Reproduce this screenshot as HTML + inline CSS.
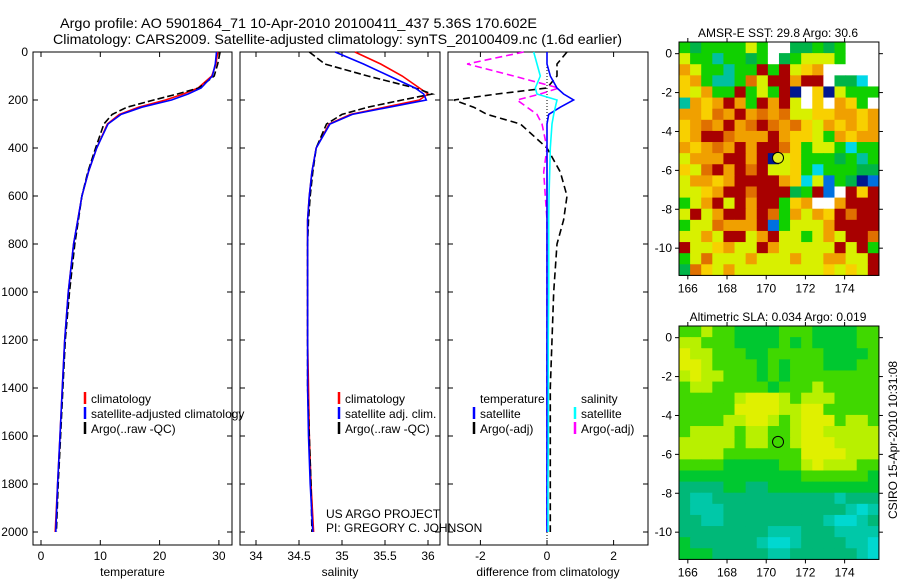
<!DOCTYPE html>
<html><head><meta charset="utf-8"><style>
html,body{margin:0;padding:0;background:#fff;}
svg{display:block;font-family:"Liberation Sans",sans-serif;}
</style></head><body>
<svg id="fig" width="900" height="580" viewBox="0 0 900 580" xmlns="http://www.w3.org/2000/svg">
<text x="60" y="28" font-size="14" textLength="477" lengthAdjust="spacingAndGlyphs">Argo profile: AO 5901864_71 10-Apr-2010 20100411_437 5.36S 170.602E</text>
<text x="53" y="44" font-size="14" textLength="569" lengthAdjust="spacingAndGlyphs">Climatology: CARS2009. Satellite-adjusted climatology: synTS_20100409.nc (1.6d earlier)</text>
<g id="plots"></g>
<text transform="translate(897,440) rotate(-90)" font-size="12" text-anchor="middle">CSIRO 15-Apr-2010 10:31:08</text>
</svg>
<script>
// ---- data ----
const depths = [0,50,100,150,175,200,230,260,300,400,500,600,700,800,1000,1200,1400,1600,1800,2000];
const tempClim = [29.8,29.5,28.8,26.5,24,21,16.5,13.2,11.2,9.4,8,6.9,6.2,5.5,4.6,4,3.6,3.2,2.8,2.4];
const tempSat  = [29.6,29.4,28.9,27,24.8,22,17,13.5,11.3,9.4,8,6.9,6.2,5.5,4.6,4,3.6,3.2,2.8,2.5];
const tempArgo = [30.2,29.8,29.2,26.6,23,19,14.5,12,10.6,9.2,7.9,6.9,6.3,5.7,4.8,4.1,3.7,3.3,2.9,2.6];
const salClim  = [35.15,35.45,35.7,35.9,36.0,35.9,35.5,35.1,34.85,34.7,34.65,34.62,34.6,34.6,34.6,34.6,34.61,34.62,34.64,34.67];
const salSat   = [34.92,35.25,35.55,35.85,35.95,35.98,35.55,35.12,34.86,34.7,34.65,34.62,34.6,34.6,34.6,34.6,34.6,34.61,34.63,34.66];
const salArgo  = [34.62,34.8,35.3,35.85,36.05,35.7,35.3,35.0,34.82,34.7,34.66,34.63,34.61,34.6,34.6,34.6,34.6,34.62,34.64,34.65];
const dTempSat  = [0,0,0.1,0.3,0.5,0.8,0.4,0.05,0,0,0,0,0,0,0,0,0,0,0,0];
const dTempArgo = [0.6,0.3,0.3,0,-1.5,-2.8,-2.2,-1.8,-0.8,0,0.4,0.6,0.5,0.3,0.2,0.15,0.1,0.1,0.1,0.1];
const dSalSat   = [-0.4,-0.3,-0.2,-0.35,-0.3,0.3,0.25,0.2,0.15,0.1,0.08,0.06,0.05,0.05,0.05,0.04,0.04,0.04,0.03,0.03];
const dSalArgo  = [-0.7,-2.4,-1.0,0.35,-0.2,-0.9,-0.6,-0.3,-0.15,0,-0.1,-0.05,0,0,0,0,0,0,0,0];
const depthTicks = [0,200,400,600,800,1000,1200,1400,1600,1800,2000];
const tempTicks = [0,10,20,30];
const salTicks = [34,34.5,35,35.5,36];
const diffTicks = [-2,0,2];
const lonTicks = [166,168,170,172,174];
const latTicks = [0,-2,-4,-6,-8,-10];
const argoLon = 170.602, argoLat = -5.36;
const sstRows = [
"GgGGGGyGWWggGgGWWW","yGGcGGgGWgGyyyGWWW","oyGGcGGRGRyYoWWWWW","YoGccGOyRRoRRWggCW",
"YyoGGRGyGRNWYNyGGG","coYoRoGRoRyWYWoYGW","ooYOoRoOoOyyYYooYo","YoOoRoOROoOYyoYoYo",
"YoRROoooRoYYyGoYoo","oYoOoRoRROYGyyGCGG","yoooRRoRNyYGGGgGcG","YyORoRORyyYGCGGGgg",
"yooYoRRRRoYCyBGgNB","yyYoRRORRRgGRBWRYR","GyoRyRoRRGYoWWoRRR","yRyoRRoROGoyoYRORR",
"GyyOoooRBGyyyoRRRR","yyoyRRyoRyyGyoyRRO","RyyYoyyRoyyyyyRyRG","GyOyyyoyyyoyyooyyR",
"gOYyoyyyyyyyyYyYyR"];
const slaRows = [
"GGlGGggggGGGggggGG","llGGGggggGgGggggGG","LllGGGggGGGGGggggG","LLlGGGGgGgGGGgggGG",
"lLllGGGgGgGGGGGGGG","GllGGGGGgGGGlGGGGG","GGGGGlLLLlGlllGGGG","GGGGGLLLLllLLGGGGG",
"GGGGllLLlGlLLLGllG","GllllGllGGlLLlllll","lllllGllGGlLLLllll","llllGGGGGGGLLLLlll",
"GGGGgggggGGlLlllGG","gggggggggggGGGGGGg","ttttggttgggggggggg","tcctttttttttttcttt",
"tccctttttttttttcCc","ttcctttttttttcCCct","ttttttttccctttcccc","gttttttcCCcttttccC",
"gggtttttccttttttcC"];
// ---- rendering ----
const NS="http://www.w3.org/2000/svg";
const root=document.getElementById('plots');
function el(tag,attrs,parent){const e=document.createElementNS(NS,tag);for(const k in attrs)e.setAttribute(k,attrs[k]);(parent||root).appendChild(e);return e;}
const yTop=52, yPer=0.24;
const yD=d=>yTop+d*yPer;
const panels=[
 {x0:33,x1:232,sx:v=>41+v*5.93,ticks:tempTicks,label:'temperature',name:'temperature-panel'},
 {x0:240,x1:440,sx:v=>256+(v-34)*86,ticks:salTicks,label:'salinity',name:'salinity-panel'},
 {x0:448,x1:648,sx:v=>547+v*33.3,ticks:diffTicks,label:'difference from climatology',name:'difference-panel'}];
panels.forEach((p,i)=>{
 const g=el('g',{});
 
 
 const r=el('rect',{x:p.x0,y:yTop,width:p.x1-p.x0,height:545-yTop,fill:'none',stroke:'#000','stroke-width':1},g);
 
 
 p.ticks.forEach(t=>{const x=p.sx(t);
  el('line',{x1:x,x2:x,y1:545,y2:540,stroke:'#000'},g);
  el('line',{x1:x,x2:x,y1:yTop,y2:yTop+5,stroke:'#000'},g);
  const tx=el('text',{x:x,y:560,'font-size':12,'text-anchor':'middle'},g);tx.textContent=t;
  
  });
 depthTicks.forEach(d=>{const y=yD(d);
  el('line',{x1:p.x0,x2:p.x0+5,y1:y,y2:y,stroke:'#000'},g);
  el('line',{x1:p.x1,x2:p.x1-5,y1:y,y2:y,stroke:'#000'},g);
  if(i===0){const tx=el('text',{x:28,y:y+4,'font-size':12,'text-anchor':'end'},g);tx.textContent=d;
   
   }});
 const xl=el('text',{x:(p.x0+p.x1)/2,y:576,'font-size':12,'text-anchor':'middle'},g);xl.textContent=p.label;
 
 
 p.g=g;});
function line(p,vals,color,dash,w,name){
 const pts=vals.map((v,k)=>p.sx(v).toFixed(1)+','+yD(depths[k]).toFixed(1)).join(' ');
 const l=el('polyline',{points:pts,fill:'none',stroke:color,'stroke-width':w||1.6,'stroke-dasharray':dash||'none'},p.g);
 
 }
line(panels[0],tempClim,'#f00',null,1.6,'temp-climatology-line');
line(panels[0],tempArgo,'#000','7,3',1.6,'temp-argo-line');
line(panels[0],tempSat,'#00f',null,1.6,'temp-satellite-line');
line(panels[1],salClim,'#f00',null,1.6,'sal-climatology-line');
line(panels[1],salArgo,'#000','7,3',1.6,'sal-argo-line');
line(panels[1],salSat,'#00f',null,1.6,'sal-satellite-line');
el('line',{x1:547,x2:547,y1:yTop,y2:545,stroke:'#000','stroke-dasharray':'1,2'},panels[2].g);
line(panels[2],dTempArgo,'#000','7,4',1.6,'dtemp-argo-line');
line(panels[2],dSalArgo,'#f0f','7,4',1.6,'dsal-argo-line');
line(panels[2],dTempSat,'#00f',null,1.6,'dtemp-satellite-line');
line(panels[2],dSalSat,'#0ff',null,1.6,'dsal-satellite-line');
function legend(x,y,items,name){
 const g=el('g',{});
 
 
 items.forEach((it,k)=>{const yy=y+k*15;
  if(it[0])el('line',{x1:x,x2:x,y1:yy-11,y2:yy+1,stroke:it[0],'stroke-width':2.5},g);
  const t=el('text',{x:x+6,y:yy,'font-size':12},g);t.textContent=it[1];
  
  });}
legend(85,403,[['#f00','climatology'],['#00f','satellite-adjusted climatology'],['#000','Argo(..raw -QC)']],'temp-legend');
legend(339,403,[['#f00','climatology'],['#00f','satellite adj. clim.'],['#000','Argo(..raw -QC)']],'sal-legend');
legend(474,403,[[null,'temperature'],['#00f','satellite'],['#000','Argo(-adj)']],'diff-temp-legend');
legend(575,403,[[null,'salinity'],['#0ff','satellite'],['#f0f','Argo(-adj)']],'diff-sal-legend');
const c1=el('text',{x:326,y:518,'font-size':12});c1.textContent='US ARGO PROJECT';


const c2=el('text',{x:326,y:532,'font-size':12});c2.textContent='PI: GREGORY C. JOHNSON';


// maps
const sstCol={R:'#a80000',O:'#e07000',o:'#f0a000',Y:'#f8d000',y:'#d8f000',G:'#10d000',g:'#00b448',c:'#00c0a0',C:'#00d8e8',B:'#0070e0',N:'#001890',W:'#ffffff'};
const slaCol={L:'#e0f000',l:'#b8f000',G:'#40d800',g:'#00c830',t:'#00b878',c:'#00c8a8',C:'#00d8d0'};
const lonMin=165.55,lonMax=175.75,latMax=0.6,latMin=-11.4;
function map(top,rows,cols,title,name,filled){
 const sx=v=>679+(v-lonMin)*19.6, sy=v=>top+(latMax-v)*19.45;
 const g=el('g',{});
 
 
 const nr=rows.length;
 rows.forEach((row,r)=>{const nc=row.length;
  for(let c=0;c<nc;c++){
   const la0=latMax-(latMax-latMin)*r/nr, la1=latMax-(latMax-latMin)*(r+1)/nr;
   const lo0=lonMin+(lonMax-lonMin)*c/nc, lo1=lonMin+(lonMax-lonMin)*(c+1)/nc;
   const cell=el('rect',{x:sx(lo0),y:sy(la0),width:sx(lo1)-sx(lo0)+0.5,height:sy(la1)-sy(la0)+0.5,fill:cols[row[c]]||'#fff'},g);
   
   }});
 const fr=el('rect',{x:679,y:sy(latMax),width:sx(lonMax)-679,height:sy(latMin)-sy(latMax),fill:'none',stroke:'#000'},g);
 
 
 lonTicks.forEach(t=>{const x=sx(t);
  el('line',{x1:x,x2:x,y1:sy(latMin),y2:sy(latMin)+4,stroke:'#000'},g);
  el('line',{x1:x,x2:x,y1:sy(latMax),y2:sy(latMax)-4,stroke:'#000'},g);
  const tx=el('text',{x:x,y:sy(latMin)+17,'font-size':12,'text-anchor':'middle'},g);tx.textContent=t;
  
  });
 latTicks.forEach(t=>{const y=sy(t);
  el('line',{x1:679,x2:675,y1:y,y2:y,stroke:'#000'},g);
  el('line',{x1:sx(lonMax),x2:sx(lonMax)+4,y1:y,y2:y,stroke:'#000'},g);
  const tx=el('text',{x:672,y:y+4,'font-size':12,'text-anchor':'end'},g);tx.textContent=t;
  
  });
 const m=el('circle',{cx:sx(argoLon),cy:sy(argoLat),r:5.5,fill:filled?'#e0f020':'none',stroke:'#000','stroke-width':1},g);
 
 
 const tt=el('text',{x:778,y:sy(latMax)-5,'font-size':12,'text-anchor':'middle'},g);tt.textContent=title;
 
 }
map(42,sstRows,sstCol,'AMSR-E SST: 29.8 Argo: 30.6','sst-map',true);
map(326,slaRows,slaCol,'Altimetric SLA: 0.034 Argo: 0.019','sla-map',false);
</script>
</body></html>
